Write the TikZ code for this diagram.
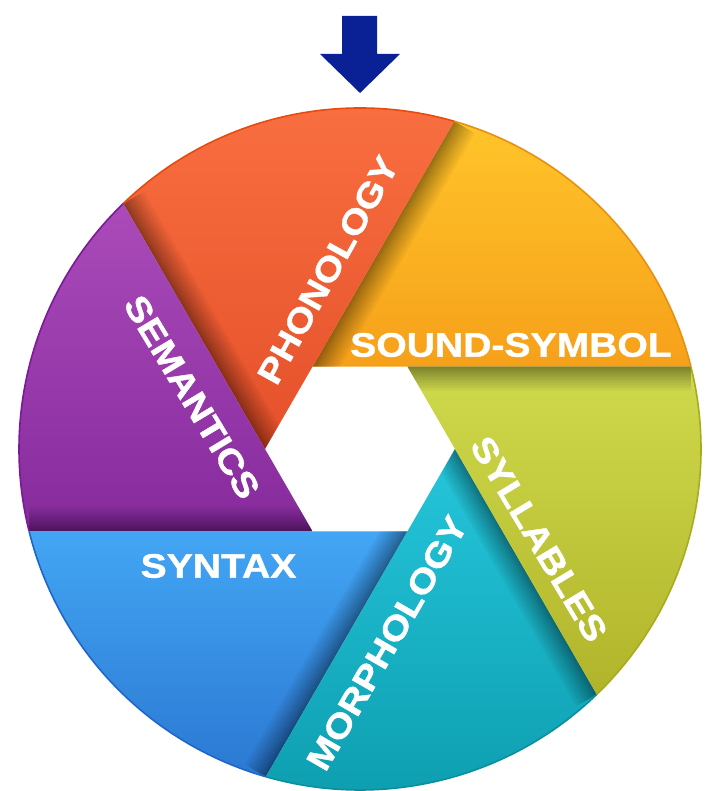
\documentclass[tikz,border=0pt]{standalone}
\usepackage{fontspec}
\newfontfamily\lblfont[FakeStretch=1.15,FakeBold=1.2]{Liberation Sans}
\usetikzlibrary{calc}
\definecolor{arrowblue}{HTML}{0A2196}
\definecolor{yelT}{HTML}{FFC52A}\definecolor{yelB}{HTML}{F6A01A}\definecolor{yelD}{HTML}{E8900F}
\definecolor{redT}{HTML}{FA7041}\definecolor{redB}{HTML}{E4502A}\definecolor{redD}{HTML}{E84A10}
\definecolor{purT}{HTML}{AB4BBA}\definecolor{purB}{HTML}{862A9C}\definecolor{purD}{HTML}{7A1A9A}
\definecolor{bluT}{HTML}{43A6F4}\definecolor{bluB}{HTML}{2B78D2}\definecolor{bluD}{HTML}{1F66C8}
\definecolor{teaT}{HTML}{26C6DC}\definecolor{teaB}{HTML}{0C9DAE}\definecolor{teaD}{HTML}{0A8FA0}
\definecolor{greT}{HTML}{CFDA4C}\definecolor{greB}{HTML}{B1B42A}\definecolor{greD}{HTML}{A8AC1C}
\begin{document}
\begin{tikzpicture}[x=1pt,y=1pt,
  lbl/.style={text=white, font=\lblfont\bfseries\fontsize{34}{34}\selectfont, inner sep=0pt},
  shd/.style={black, opacity=0.04, line cap=butt},
  rim/.style={line width=1.6}]
\useasboundingbox (0,0) rectangle (707,791);
\fill[white] (0,0) rectangle (707,791);
\def\R{341}
\def\shwidths{48,43,38,33,28,24,20,16,12,9,6,3}
\coordinate (C) at (360,342);
\foreach \a in {0,60,120,180,240,300} \coordinate (V\a) at ($(C)+(\a:95)$);
\coordinate (E1) at ($(C)+(13.97:\R)$);
\coordinate (E2) at ($(C)+(-46.03:\R)$);
\coordinate (E3) at ($(C)+(-106.03:\R)$);
\coordinate (E4) at ($(C)+(-166.03:\R)$);
\coordinate (E5) at ($(C)+(133.97:\R)$);
\coordinate (E6) at ($(C)+(73.97:\R)$);

% SOUND-SYMBOL (yellow)
\shade[top color=yelT, bottom color=yelB] (V120) -- (E6) arc[start angle=73.97, end angle=13.97, radius=\R] -- (V60) -- cycle;
\begin{scope}
\clip (V120) -- (E6) arc[start angle=73.97, end angle=13.97, radius=\R] -- (V60) -- cycle;
\foreach \w in \shwidths \draw[shd, line width=\w] (V120) -- (E6);
\end{scope}
\draw[rim, yelD] (E6) arc[start angle=73.97, end angle=13.97, radius=\R];

% PHONOLOGY (red)
\shade[top color=redT, bottom color=redB] (V180) -- (E5) arc[start angle=133.97, end angle=73.97, radius=\R] -- (V120) -- cycle;
\begin{scope}
\clip (V180) -- (E5) arc[start angle=133.97, end angle=73.97, radius=\R] -- (V120) -- cycle;
\foreach \w in \shwidths \draw[shd, line width=\w] (V180) -- (E5);
\end{scope}
\draw[rim, redD] (E5) arc[start angle=133.97, end angle=73.97, radius=\R];

% SEMANTICS (purple)
\shade[top color=purT, bottom color=purB] (V240) -- (E4) arc[start angle=193.97, end angle=133.97, radius=\R] -- (V180) -- cycle;
\begin{scope}
\clip (V240) -- (E4) arc[start angle=193.97, end angle=133.97, radius=\R] -- (V180) -- cycle;
\foreach \w in \shwidths \draw[shd, line width=\w] (V240) -- (E4);
\end{scope}
\draw[rim, purD] (E4) arc[start angle=193.97, end angle=133.97, radius=\R];

% SYNTAX (blue)
\shade[top color=bluT, bottom color=bluB] (V300) -- (E3) arc[start angle=253.97, end angle=193.97, radius=\R] -- (V240) -- cycle;
\begin{scope}
\clip (V300) -- (E3) arc[start angle=253.97, end angle=193.97, radius=\R] -- (V240) -- cycle;
\foreach \w in \shwidths \draw[shd, line width=\w] (V300) -- (E3);
\end{scope}
\draw[rim, bluD] (E3) arc[start angle=253.97, end angle=193.97, radius=\R];

% MORPHOLOGY (teal)
\shade[top color=teaT, bottom color=teaB] (V0) -- (E2) arc[start angle=313.97, end angle=253.97, radius=\R] -- (V300) -- cycle;
\begin{scope}
\clip (V0) -- (E2) arc[start angle=313.97, end angle=253.97, radius=\R] -- (V300) -- cycle;
\foreach \w in \shwidths \draw[shd, line width=\w] (V0) -- (E2);
\end{scope}
\draw[rim, teaD] (E2) arc[start angle=313.97, end angle=253.97, radius=\R];

% SYLLABLES (green)
\shade[top color=greT, bottom color=greB] (V60) -- (E1) arc[start angle=13.97, end angle=-46.03, radius=\R] -- (V0) -- cycle;
\begin{scope}
\clip (V60) -- (E1) arc[start angle=13.97, end angle=-46.03, radius=\R] -- (V0) -- cycle;
\foreach \w in \shwidths \draw[shd, line width=\w] (V60) -- (E1);
\end{scope}
\draw[rim, greD] (E1) arc[start angle=13.97, end angle=-46.03, radius=\R];

% labels
\node[lbl] (snd) at (511,446) {SOUND-SYMBOL};
\node[lbl, rotate=61] (pho) at (328,521) {PHONOLOGY};
\node[lbl, rotate=-59] (sem) at (192,394) {SEMANTICS};
\node[lbl] (syn) at (218.5,225) {SYNTAX};
\node[lbl, rotate=60] (mor) at (387,148) {MORPHOLOGY};
\node[lbl, rotate=-59] (syl) at (539,252) {SYLLABLES};

% arrow
\fill[arrowblue] (342,775) -- (377,775) -- (377,737) -- (400,737) -- (360,698) -- (320,737) -- (342,737) -- cycle;
\end{tikzpicture}
\end{document}
